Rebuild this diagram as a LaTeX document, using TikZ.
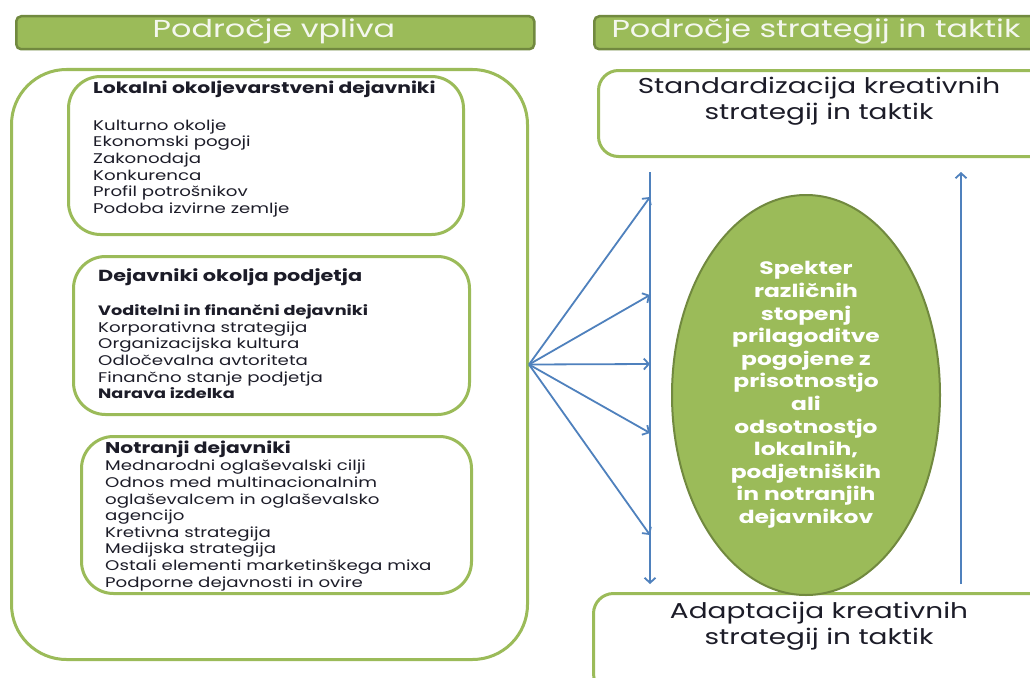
\documentclass[tikz,border=0pt]{standalone}
\usepackage{fontspec}
\setmainfont{Poppins}[FakeStretch=1.3]
\usetikzlibrary{arrows.meta,shapes.geometric}
\definecolor{gfill}{HTML}{9BBB59}
\definecolor{gdark}{HTML}{71893F}
\definecolor{blueA}{HTML}{4F81BD}
\definecolor{hdrtext}{HTML}{F4F7EE}
\definecolor{txt}{HTML}{1C1C28}
\begin{document}
\begin{tikzpicture}[x=1pt,y=-1pt,
  hdr/.style={draw=gdark,fill=gfill,line width=2.5pt,rounded corners=5pt,anchor=north west,inner sep=0pt},
  hdrtxt/.style={text=hdrtext,font=\fontsize{24.5}{26}\selectfont,inner sep=0pt},
  gbox/.style={draw=gfill,line width=3pt,anchor=north west,inner sep=0pt},
  boxtext/.style={anchor=north west,align=left,inner sep=0pt,text=txt,
    font=\fontsize{14}{16.6}\selectfont},
  bigtext/.style={align=center,inner sep=0pt,text=txt,font=\fontsize{21.5}{26}\selectfont},
  arr/.style={draw=blueA,line width=1.8pt,-{Straight Barb[length=5pt,width=11pt,line width=1.8pt]}}
]
\useasboundingbox (0,0) rectangle (1030,677);
\fill[white] (0,0) rectangle (1030,677);

% headers
\node[hdr,minimum width=518pt,minimum height=33pt] (h1) at (15,15) {};
\node[hdrtxt] (h1t) at (274,31) {Področje vpliva};
\node[hdr,minimum width=470pt,minimum height=33pt] (h2) at (593,15) {};
\node[hdrtxt] (h2t) at (816,31) {Področje strategij in taktik};

% left big box
\node[gbox,rounded corners=55pt,minimum width=516pt,minimum height=590pt] (outer) at (10,68) {};
\node[gbox,rounded corners=32pt,minimum width=395pt,minimum height=158pt] (b1) at (67,75) {};
\node[gbox,rounded corners=32pt,minimum width=396pt,minimum height=158pt] (b2) at (72,255) {};
\node[gbox,rounded corners=32pt,minimum width=390pt,minimum height=157pt] (b3) at (80,435) {};

\node[boxtext] (t1) at (93,81) {{\fontsize{15.6}{16}\selectfont\bfseries Lokalni okoljevarstveni dejavniki}\\[20pt]
Kulturno okolje\\ Ekonomski pogoji\\ Zakonodaja\\ Konkurenca\\ Profil potrošnikov\\ Podoba izvirne zemlje};

\node[boxtext] (t2) at (98,268) {{\fontsize{16}{17}\selectfont\bfseries Dejavniki okolja podjetja}\\[18pt]
{\fontsize{13.6}{16.6}\selectfont\bfseries Voditelni in finančni dejavniki}\\ Korporativna strategija\\ Organizacijska kultura\\
Odločevalna avtoriteta\\ Finančno stanje podjetja\\ {\fontsize{13.6}{16.6}\selectfont\bfseries Narava izdelka}};

\node[boxtext] (t3) at (105,441) {{\fontsize{15.6}{16}\selectfont\bfseries Notranji dejavniki}\\[0.5pt]
Mednarodni oglaševalski cilji\\ Odnos med multinacionalnim\\ oglaševalcem in oglaševalsko\\ agencijo\\
Kretivna strategija\\ Medijska strategija\\ Ostali elementi marketinškega mixa\\ Podporne dejavnosti in ovire};

% right boxes
\node[gbox,rounded corners=20pt,minimum width=460pt,minimum height=86pt] (std) at (597,69) {};
\node[bigtext] (stdt) at (819,101) {Standardizacija kreativnih\\ strategij in taktik};
\node[gbox,rounded corners=20pt,minimum width=460pt,minimum height=100pt] (adp) at (592,592) {};
\node[bigtext] (adpt) at (819,626) {Adaptacija kreativnih\\ strategij in taktik};

% ellipse
\node[ellipse,draw=gdark,fill=gfill,line width=2pt,minimum width=268pt,minimum height=400pt,inner sep=0pt] (ell) at (806,395) {};
\node[align=center,text=white,font=\fontsize{18}{22.6}\selectfont\bfseries,inner sep=0pt] (ellt) at (806,395)
{Spekter\\ različnih\\ stopenj\\ prilagoditve\\ pogojene z\\ prisotnostjo\\ ali\\ odsotnostjo\\ lokalnih,\\ podjetniških\\ in notranjih\\ dejavnikov};

% arrows
\coordinate (vtop) at (650,172);
\coordinate (vbot) at (650,584);
\coordinate (a1) at (650,197);
\coordinate (a2) at (650,295);
\coordinate (a3) at (650,364);
\coordinate (a4) at (650,433);
\coordinate (a5) at (650,535);
\coordinate (rbot) at (961,584);
\coordinate (rtop) at (961,172);
\draw[arr] (vtop) -- (vbot);
\foreach \t in {a1,a2,a3,a4,a5} \draw[arr] (outer.east) -- (\t);
\draw[arr] (rbot) -- (rtop);
\end{tikzpicture}
\end{document}
